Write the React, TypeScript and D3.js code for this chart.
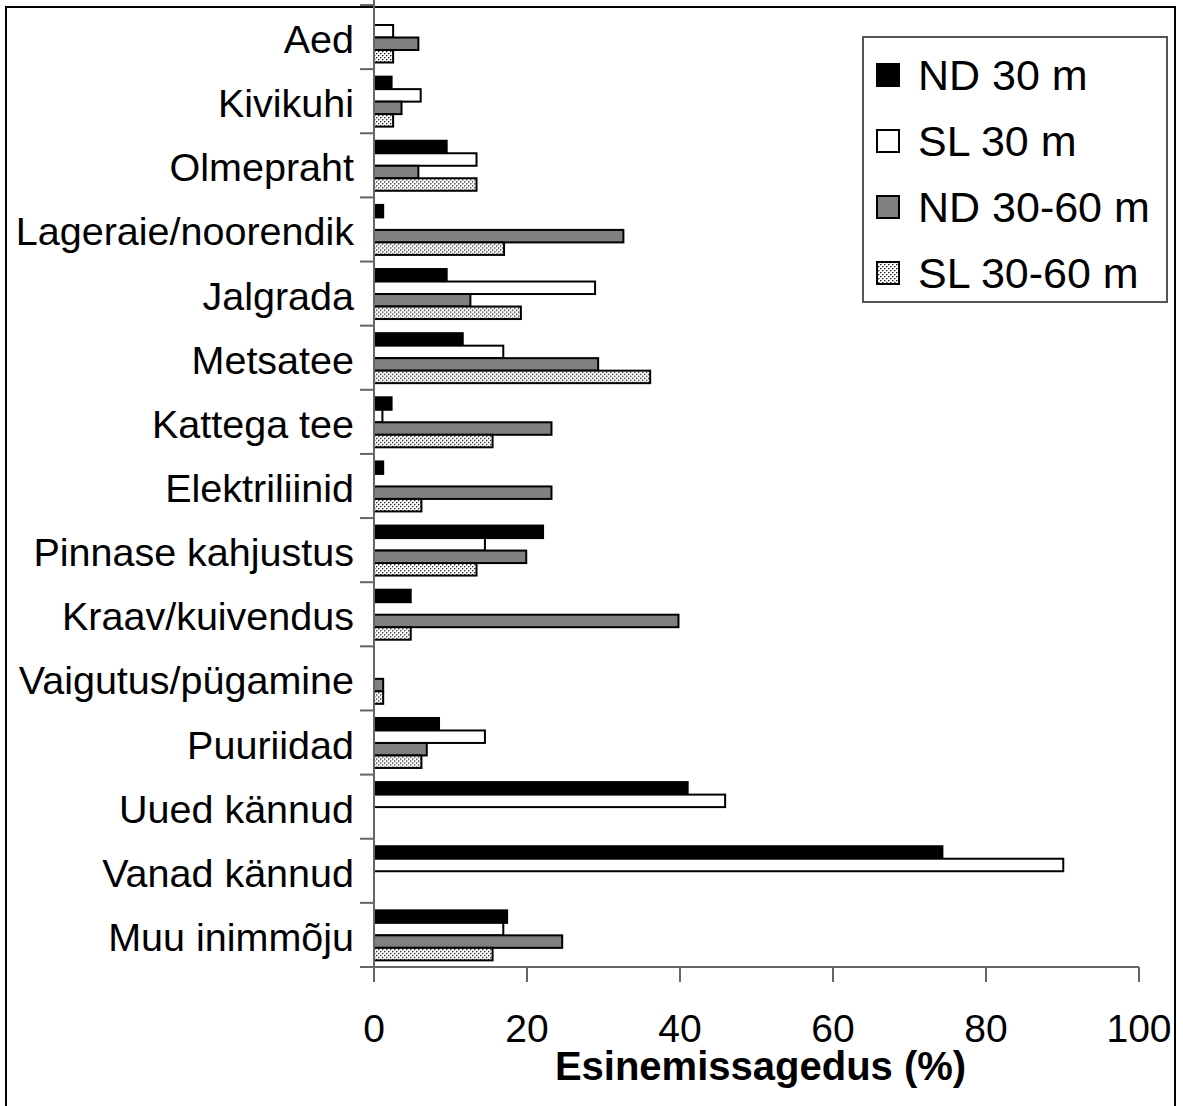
import React from "react";
import * as d3 from "d3";

const categories = [
  "Aed",
  "Kivikuhi",
  "Olmepraht",
  "Lageraie/noorendik",
  "Jalgrada",
  "Metsatee",
  "Kattega tee",
  "Elektriliinid",
  "Pinnase kahjustus",
  "Kraav/kuivendus",
  "Vaigutus/pügamine",
  "Puuriidad",
  "Uued kännud",
  "Vanad kännud",
  "Muu inimmõju",
];

const seriesNames = ["ND 30 m", "SL 30 m", "ND 30-60 m", "SL 30-60 m"];

const nd30 = [0, 2.3, 9.5, 1.2, 9.5, 11.6, 2.3, 1.2, 22.1, 4.8, 0, 8.5, 41.0, 74.3, 17.4];
const sl30 = [2.5, 6.1, 13.4, 0, 28.9, 16.9, 1.1, 0, 14.5, 0, 0, 14.5, 45.9, 90.1, 16.9];
const nd3060 = [5.8, 3.6, 5.8, 32.6, 12.6, 29.3, 23.2, 23.2, 19.9, 39.8, 1.2, 6.9, 0, 0, 24.6];
const sl3060 = [2.5, 2.5, 13.4, 17.0, 19.2, 36.1, 15.5, 6.2, 13.4, 4.8, 1.2, 6.2, 0, 0, 15.5];

const seriesValues = [nd30, sl30, nd3060, sl3060];
const xTicks = [0, 20, 40, 60, 80, 100];

const fills = ["#000000", "#ffffff", "#808080", "url(#dots)"];

const W = 1183;
const H = 1106;
const margin = { top: 5, left: 374, right: 44, bottom: 139 };

const App = () => {
  const x = d3.scaleLinear().domain([0, 100]).range([margin.left, W - margin.right]);
  const y = d3.scaleBand().domain(categories).range([margin.top, H - margin.bottom]).padding(0);
  const inner = d3.scaleBand().domain(seriesNames).range([7.5, 57.5]).padding(0);
  const axisY = H - margin.bottom;
  const font = "Arial, 'Liberation Sans', sans-serif";

  return (
    <svg width={W} height={H} style={{ position: "absolute", left: 0, top: 0, background: "#fff" }} fontFamily={font}>
      <defs>
        <pattern id="dots" width={4} height={4} patternUnits="userSpaceOnUse">
          <rect width={4} height={4} fill="#ffffff" />
          <rect x={0} y={0} width={1} height={1} fill="#222" />
          <rect x={2} y={2} width={1} height={1} fill="#222" />
          <rect x={1} y={0} width={1} height={1} fill="#999" />
          <rect x={3} y={2} width={1} height={1} fill="#999" />
          <rect x={0} y={1} width={1} height={1} fill="#bbb" />
          <rect x={2} y={3} width={1} height={1} fill="#bbb" />
        </pattern>
      </defs>
      <rect x={6} y={7} width={1169} height={1110} fill="none" stroke="#000" strokeWidth={2} />

      {categories.map((c, i) => (
        <g key={c} transform={`translate(0, ${y(c)})`}>
          {seriesValues.map((vals, s) =>
            vals[i] > 0 ? (
              <rect
                key={s}
                x={x(0)}
                y={inner(seriesNames[s])}
                width={x(vals[i]) - x(0)}
                height={inner.bandwidth()}
                fill={fills[s]}
                stroke="#000"
                strokeWidth={2}
              />
            ) : null
          )}
          <text x={354} y={y.bandwidth() / 2 + 16} textAnchor="end" fontSize={39.5}>
            {c}
          </text>
        </g>
      ))}

      {/* y axis */}
      <line x1={x(0)} x2={x(0)} y1={0} y2={axisY} stroke="#666" strokeWidth={2} />
      {categories.map((c) => (
        <line key={c} x1={x(0) - 14} x2={x(0)} y1={(y(c) as number) + y.bandwidth()} y2={(y(c) as number) + y.bandwidth()} stroke="#666" strokeWidth={2} />
      ))}
      <line x1={x(0) - 14} x2={x(0)} y1={margin.top} y2={margin.top} stroke="#666" strokeWidth={2} />

      {/* x axis */}
      <line x1={x(0)} x2={x(100)} y1={axisY} y2={axisY} stroke="#666" strokeWidth={2} />
      {xTicks.map((t) => (
        <g key={t}>
          <line x1={x(t)} x2={x(t)} y1={axisY} y2={axisY + 15} stroke="#666" strokeWidth={2} />
          <text x={x(t)} y={axisY + 75} textAnchor="middle" fontSize={39}>
            {t}
          </text>
        </g>
      ))}
      <text x={(x(0) + x(100)) / 2 + 4} y={axisY + 113} textAnchor="middle" fontSize={40} fontWeight="bold">
        Esinemissagedus (%)
      </text>

      {/* legend */}
      <g>
        <rect x={863} y={37} width={304} height={265} fill="#fff" stroke="#555" strokeWidth={2} />
        {seriesNames.map((s, i) => {
          const cy = 75 + i * 66;
          return (
            <g key={s}>
              <rect x={877} y={cy - 11} width={22} height={22} fill={fills[i]} stroke="#000" strokeWidth={2} />
              <text x={918} y={cy + 15} fontSize={43}>
                {s}
              </text>
            </g>
          );
        })}
      </g>
    </svg>
  );
};

export default App;
